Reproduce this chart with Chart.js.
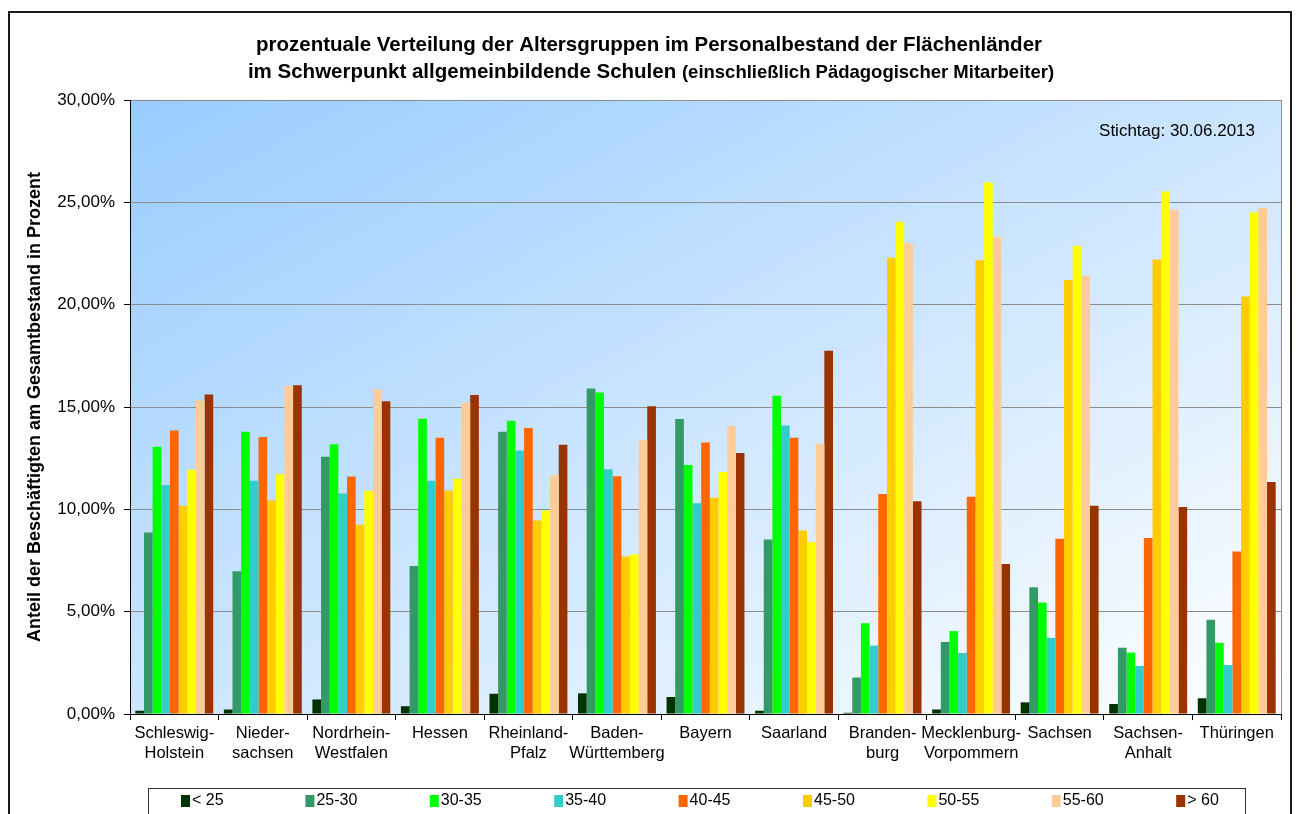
<!DOCTYPE html>
<html>
<head>
<meta charset="utf-8">
<script src="https://cdn.jsdelivr.net/npm/chart.js"></script>
<style>
  html, body { margin: 0; padding: 0; background: #ffffff; }
  canvas { display: block; }
</style>
</head>
<body>
<canvas id="chart" width="1299" height="814"></canvas>
<script>
// Länder (x categories), two-line labels as shown under the axis
const categories = [
  ["Schleswig-", "Holstein"], ["Nieder-", "sachsen"], ["Nordrhein-", "Westfalen"], ["Hessen"],
  ["Rheinland-", "Pfalz"], ["Baden-", "Württemberg"], ["Bayern"], ["Saarland"],
  ["Branden-", "burg"], ["Mecklenburg-", "Vorpommern"], ["Sachsen"], ["Sachsen-", "Anhalt"], ["Thüringen"]
];

// Age groups (series) and their colours
const ageGroups = ["< 25", "25-30", "30-35", "35-40", "40-45", "45-50", "50-55", "55-60", "> 60"];
const groupColors = ["#003300", "#339966", "#00FF00", "#33CCCC", "#FF6600", "#FFCC00", "#FFFF00", "#FFCC99", "#993300"];

// Share of staff per age group, in percent
const under25   = [0.16, 0.22, 0.71, 0.38, 0.99, 1.01, 0.83, 0.16, 0.06, 0.22, 0.57, 0.49, 0.77];
const age25to30 = [8.87, 6.98, 12.57, 7.23, 13.79, 15.91, 14.41, 8.52, 1.78, 3.52, 6.19, 3.24, 4.60];
const age30to35 = [13.06, 13.79, 13.18, 14.43, 14.33, 15.71, 12.17, 15.55, 4.43, 4.05, 5.45, 3.00, 3.48];
const age35to40 = [11.19, 11.40, 10.77, 11.40, 12.87, 11.96, 10.30, 14.09, 3.34, 2.98, 3.72, 2.35, 2.39];
const age40to45 = [13.85, 13.54, 11.60, 13.50, 13.97, 11.62, 13.26, 13.50, 10.75, 10.61, 8.56, 8.60, 7.94];
const age45to50 = [10.18, 10.43, 9.25, 10.91, 9.45, 7.69, 10.57, 8.97, 22.29, 22.17, 21.21, 22.21, 20.40];
const age50to55 = [11.94, 11.72, 10.89, 11.50, 9.94, 7.79, 11.82, 8.40, 24.05, 25.97, 22.87, 25.53, 24.51];
const age55to60 = [15.32, 16.02, 15.85, 15.22, 11.66, 13.40, 14.07, 13.20, 23.00, 23.32, 21.40, 24.64, 24.74];
const over60    = [15.61, 16.06, 15.28, 15.59, 13.16, 15.04, 12.75, 17.75, 10.40, 7.33, 10.18, 10.12, 11.34];

const seriesValues = [under25, age25to30, age30to35, age35to40, age40to45, age45to50, age50to55, age55to60, over60];

// Value axis
const yMin = 0;
const yMax = 30;
const yStep = 5;

// Texts
const titleLine1 = "prozentuale Verteilung der Altersgruppen im Personalbestand der Flächenländer";
const titleLine2a = "im Schwerpunkt allgemeinbildende Schulen ";
const titleLine2b = "(einschließlich Pädagogischer Mitarbeiter)";
const yAxisTitle = "Anteil der Beschäftigten am Gesamtbestand in Prozent";
const dateNote = "Stichtag: 30.06.2013";

const FONT = '"Liberation Sans", Arial, sans-serif';

// Diagonal blue-to-white fill of the plot area, plus the grey right-hand frame
const plotBackground = {
  id: 'plotBackground',
  beforeDraw(chart) {
    const { ctx, chartArea: a } = chart;
    const W = a.right - a.left, H = a.bottom - a.top;
    const k = 2 / (1 / (W * W) + 1 / (H * H));
    const g = ctx.createLinearGradient(a.left, a.top, a.left + k / W, a.top + k / H);
    g.addColorStop(0, '#99CCFF');
    g.addColorStop(1, '#FFFFFF');
    ctx.save();
    ctx.fillStyle = g;
    ctx.fillRect(a.left, a.top, W, H);
    ctx.restore();
  },
  afterDraw(chart) {
    const { ctx, chartArea: a } = chart;
    ctx.save();
    ctx.strokeStyle = '#8c8c8c';
    ctx.lineWidth = 1;
    ctx.beginPath();
    ctx.moveTo(Math.round(a.right) + 0.5, a.top);
    ctx.lineTo(Math.round(a.right) + 0.5, a.bottom);
    ctx.stroke();
    ctx.restore();
  }
};

// Outer frame, two-part title, date note and boxed legend
const decorations = {
  id: 'decorations',
  afterDraw(chart) {
    const { ctx } = chart;
    ctx.save();
    // frame
    ctx.strokeStyle = '#1a1a1a';
    ctx.lineWidth = 2;
    ctx.strokeRect(9, 12, 1282, 900);

    // title
    ctx.fillStyle = '#000';
    ctx.textBaseline = 'middle';
    ctx.textAlign = 'center';
    ctx.font = 'bold 20.5px ' + FONT;
    ctx.fillText(titleLine1, 649, 45);
    const f2a = 'bold 20.5px ' + FONT, f2b = 'bold 18.5px ' + FONT;
    ctx.font = f2a; const wA = ctx.measureText(titleLine2a).width;
    ctx.font = f2b; const wB = ctx.measureText(titleLine2b).width;
    let x = 651 - (wA + wB) / 2;
    ctx.textAlign = 'left';
    ctx.font = f2a; ctx.fillText(titleLine2a, x, 72);
    ctx.font = f2b; ctx.fillText(titleLine2b, x + wA, 73);

    // date note
    ctx.textAlign = 'right';
    ctx.font = '17px ' + FONT;
    ctx.fillText(dateNote, 1255, 131);

    // legend box
    ctx.strokeStyle = '#333';
    ctx.lineWidth = 1;
    ctx.strokeRect(148.5, 788.5, 1097, 60);
    ctx.textAlign = 'left';
    ctx.font = '16px ' + FONT;
    chart.data.datasets.forEach((ds, i) => {
      const lx = 181 + i * 124.4;
      ctx.fillStyle = ds.backgroundColor;
      ctx.fillRect(lx, 795, 9, 12);
      ctx.fillStyle = '#000';
      ctx.fillText(ds.label, lx + 11, 801);
    });
    ctx.restore();
  }
};

new Chart(document.getElementById('chart'), {
  type: 'bar',
  data: {
    labels: categories,
    datasets: ageGroups.map((name, i) => ({
      label: name,
      data: seriesValues[i],
      backgroundColor: groupColors[i],
      borderWidth: 0,
      categoryPercentage: 0.88,
      barPercentage: 1.0
    }))
  },
  options: {
    responsive: false,
    animation: false,
    layout: { padding: { left: 0, top: 100, right: 18, bottom: 0 } },
    plugins: {
      legend: { display: false },
      title: { display: false },
      tooltip: { enabled: false }
    },
    scales: {
      x: {
        grid: { offset: true, drawOnChartArea: false, tickLength: 6, tickColor: '#000' },
        border: { color: '#000', width: 1 },
        ticks: {
          color: '#000', font: { family: FONT, size: 16.5 },
          maxRotation: 0, autoSkip: false, padding: 4
        },
        afterFit(scale) { scale.height = 100; }
      },
      y: {
        min: yMin, max: yMax,
        ticks: {
          stepSize: yStep, color: '#000', padding: 9,
          font: { family: FONT, size: 17 },
          callback: v => v.toFixed(2).replace('.', ',') + '%'
        },
        grid: { color: '#8c8c8c', tickColor: '#000', tickLength: 6 },
        border: { color: '#000', width: 1 },
        title: {
          display: true, text: yAxisTitle, color: '#000',
          font: { family: FONT, size: 18, weight: 'bold' },
          padding: { top: 24, bottom: 0 }
        },
        afterFit(scale) { scale.width = 130; }
      }
    }
  },
  plugins: [plotBackground, decorations]
});
</script>
</body>
</html>
